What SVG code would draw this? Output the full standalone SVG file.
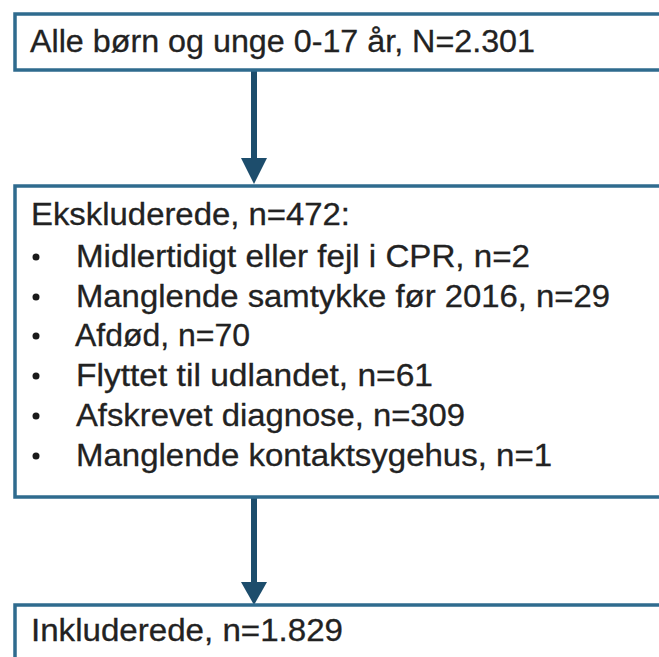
<svg xmlns="http://www.w3.org/2000/svg" width="659" height="657" viewBox="0 0 659 657">
<style>
.box{fill:#fff;stroke:#2f6b8e;stroke-width:3.5}
.t{font-family:"Liberation Sans",Arial,sans-serif;font-size:31px;fill:#222;stroke:#222;stroke-width:0.3}
.b{fill:#1a1a1a}
.conn{stroke:#1d4d6c;stroke-width:6;fill:none}
.head{fill:#1d4d6c}
</style>
<rect width="659" height="657" fill="#fff"/>
<g id="connectors">
<line class="conn" x1="254" y1="71" x2="254" y2="162"/>
<polygon class="head" points="241,158 267,158 254,184"/>
<line class="conn" x1="254" y1="498" x2="254" y2="586"/>
<polygon class="head" points="241,582 267,582 254,605"/>
</g>
<g id="node-all">
<rect class="box" x="15" y="14" width="660" height="56"/>
<text class="t" x="30" y="52" textLength="505" lengthAdjust="spacingAndGlyphs">Alle børn og unge 0-17 år, N=2.301</text>
</g>
<g id="node-excluded">
<rect class="box" x="15" y="186" width="660" height="311"/>
<text class="t" x="31" y="225" textLength="319" lengthAdjust="spacingAndGlyphs">Ekskluderede, n=472:</text>
<circle class="b" cx="36" cy="257" r="3.5"/>
<text class="t" x="76" y="267" textLength="454" lengthAdjust="spacingAndGlyphs">Midlertidigt eller fejl i CPR, n=2</text>
<circle class="b" cx="36" cy="297" r="3.5"/>
<text class="t" x="76" y="307" textLength="534" lengthAdjust="spacingAndGlyphs">Manglende samtykke før 2016, n=29</text>
<circle class="b" cx="36" cy="336" r="3.5"/>
<text class="t" x="75" y="346" textLength="175" lengthAdjust="spacingAndGlyphs">Afdød, n=70</text>
<circle class="b" cx="36" cy="376" r="3.5"/>
<text class="t" x="76" y="386" textLength="357" lengthAdjust="spacingAndGlyphs">Flyttet til udlandet, n=61</text>
<circle class="b" cx="36" cy="416" r="3.5"/>
<text class="t" x="76" y="426" textLength="389" lengthAdjust="spacingAndGlyphs">Afskrevet diagnose, n=309</text>
<circle class="b" cx="36" cy="456" r="3.5"/>
<text class="t" x="76" y="466" textLength="476" lengthAdjust="spacingAndGlyphs">Manglende kontaktsygehus, n=1</text>
</g>
<g id="node-included">
<rect class="box" x="15" y="605" width="660" height="80"/>
<text class="t" x="31" y="641" textLength="312" lengthAdjust="spacingAndGlyphs">Inkluderede, n=1.829</text>
</g>
</svg>
